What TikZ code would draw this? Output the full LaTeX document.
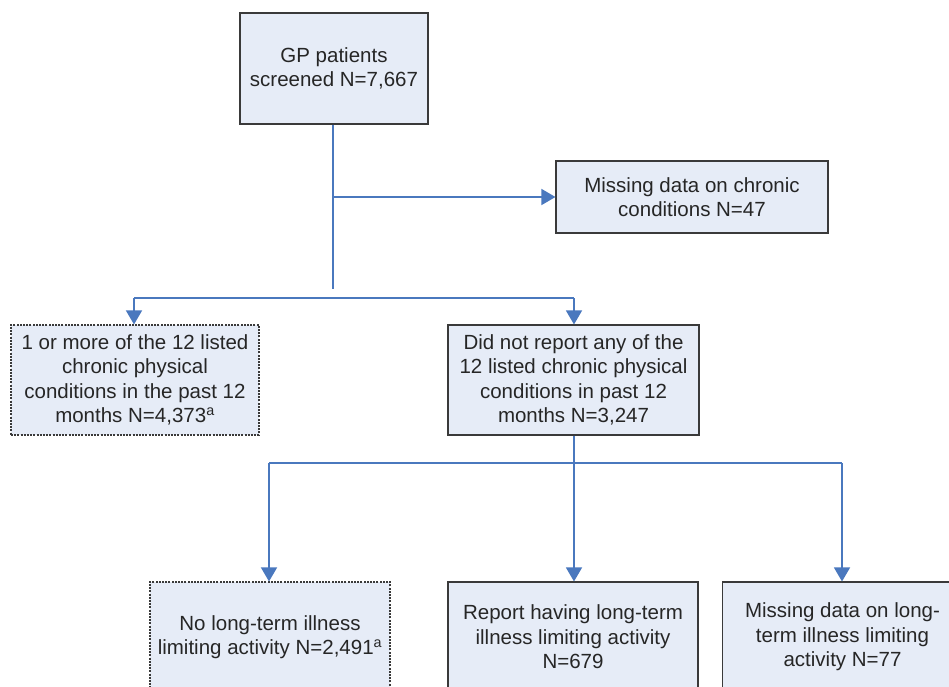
\documentclass[tikz,border=0pt]{standalone}
\usepackage{fontspec}
\setmainfont{Liberation Sans}
\usetikzlibrary{arrows.meta}
\definecolor{boxfill}{HTML}{E6ECF7}
\definecolor{boxline}{HTML}{3A3A3A}
\definecolor{connblue}{HTML}{4A78BE}
\tikzset{
  flowbox/.style={draw=boxline, line width=1.1pt, fill=boxfill, align=center,
    inner sep=0pt, font=\fontsize{20.5}{24.5}\selectfont, text=black!85},
  dotbox/.style={flowbox, dash pattern=on 2pt off 1.2pt},
  conn/.style={draw=connblue, line width=1.4pt},
  arr/.style={conn, -{Triangle[width=16pt,length=14pt]}}
}
\begin{document}
\begin{tikzpicture}[x=1pt,y=-1pt]
\useasboundingbox (0,0) rectangle (949,686);
\clip (0,0) rectangle (949,686);
% boxes
\node[flowbox, minimum width=188, minimum height=111] (gp) at (334,68.5) {GP patients\\screened N=7,667};
\node[flowbox, minimum width=272, minimum height=72] (miss) at (692,197) {Missing data on chronic\\conditions N=47};
\node[dotbox, minimum width=248, minimum height=110] (one) at (135,380) {1 or more of the 12 listed\\chronic physical\\conditions in the past 12\\months N=4,373\textsuperscript{a}};
\node[flowbox, minimum width=251, minimum height=110] (none) at (573.5,380) {Did not report any of the\\12 listed chronic physical\\conditions in past 12\\months N=3,247};
\node[dotbox, minimum width=240, minimum height=110] (nolt) at (270,637) {No long-term illness\\limiting activity N=2,491\textsuperscript{a}};
\node[flowbox, minimum width=250, minimum height=110] (rep) at (573,637) {Report having long-term\\illness limiting activity\\N=679};
\node[flowbox, minimum width=240, minimum height=110] (mlt) at (842.5,637) {Missing data on long-\\term illness limiting\\activity N=77};
% junction coordinates
\coordinate (j1) at (333,289);
\coordinate (h1l) at (134,298);
\coordinate (h1r) at (574,298);
\coordinate (j2) at (574,463);
\coordinate (h2l) at (269,463);
\coordinate (h2r) at (842,463);
% connectors
\draw[conn] (gp.south -| j1) -- (j1);
\draw[arr] (j1 |- miss.west) -- (miss.west);
\draw[conn] (h1l) -- (h1r);
\draw[arr] (h1l) -- (h1l |- one.north);
\draw[arr] (h1r) -- (h1r |- none.north);
\draw[conn] (none.south -| j2) -- (j2);
\draw[conn] (h2l) -- (h2r);
\draw[arr] (h2l) -- (h2l |- nolt.north);
\draw[arr] (j2) -- (j2 |- rep.north);
\draw[arr] (h2r) -- (h2r |- mlt.north);
\end{tikzpicture}
\end{document}
